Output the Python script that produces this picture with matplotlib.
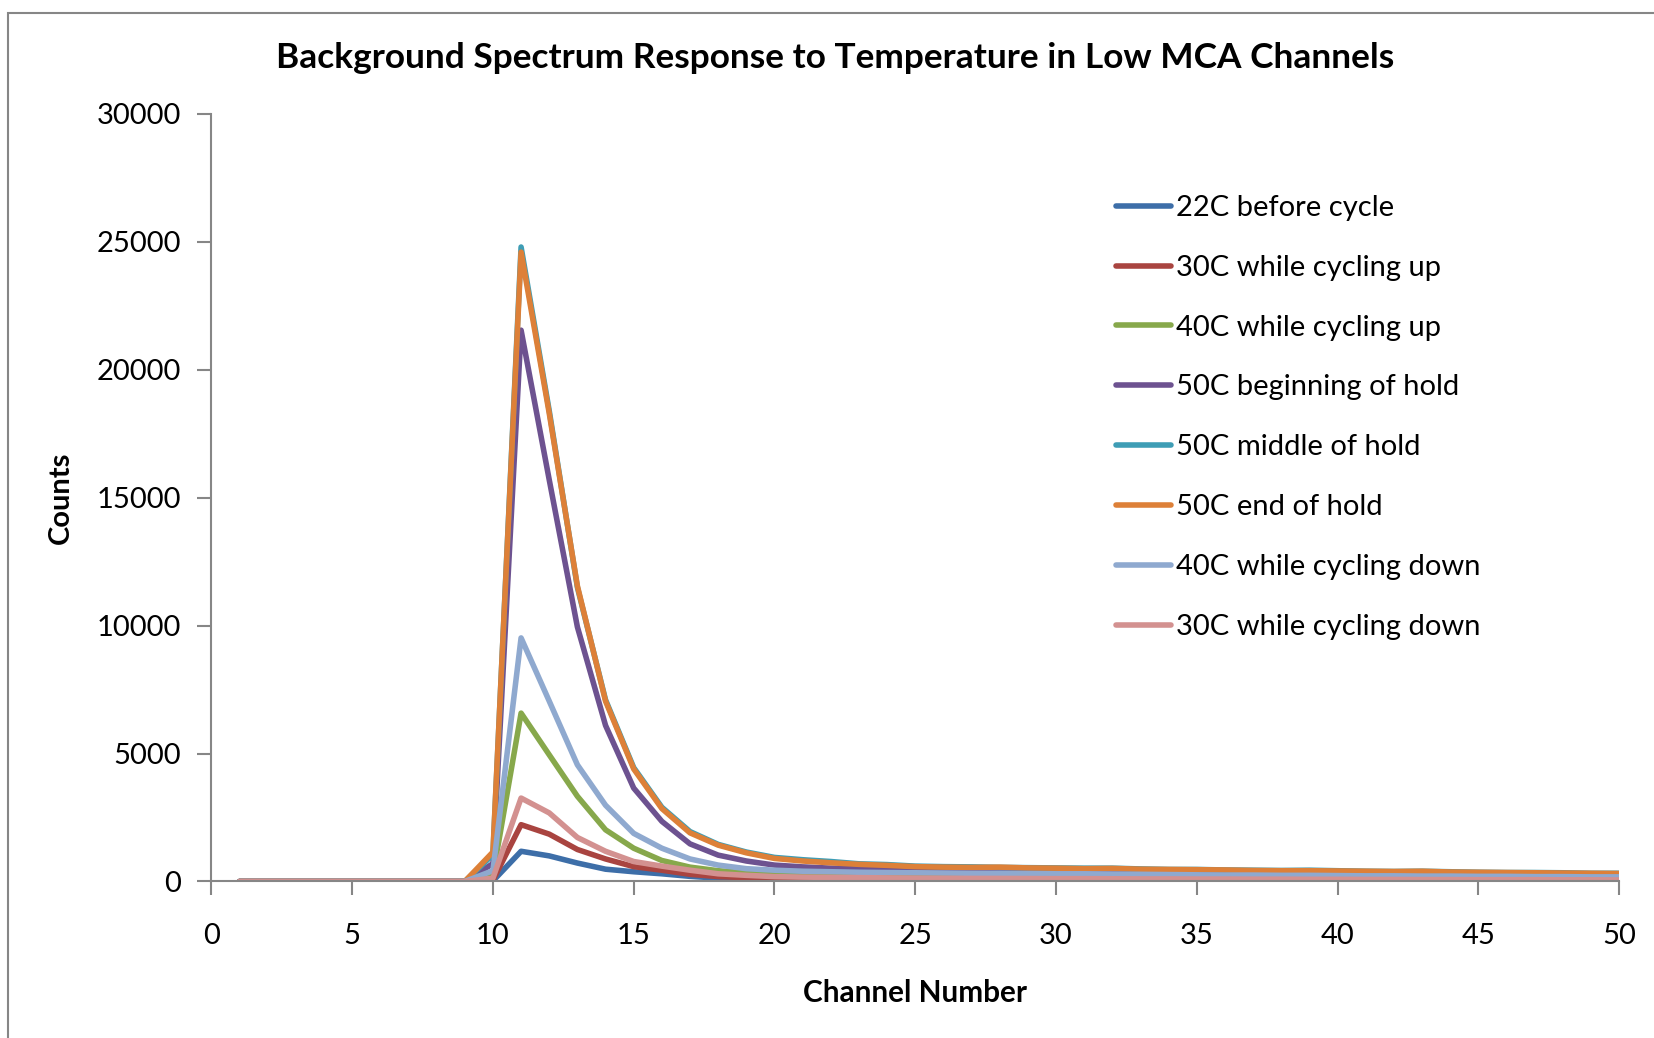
import matplotlib
matplotlib.use("Agg")
import matplotlib.pyplot as plt
from matplotlib.patches import Rectangle

plt.rcParams["font.family"] = ["Lato", "DejaVu Sans"]

channels = list(range(1, 51))
zeros = [0] * 9  # channels 1-9

blue_22 = zeros + [20, 1180, 1000, 720, 480, 380, 300, 200, 130, 100,
                   80, 70, 60, 55, 50, 50,
                   45, 44, 42, 41, 40, 39, 38, 37, 36, 35, 34, 33, 32, 31, 30,
                   30, 29, 28, 27, 26, 25, 25, 24, 23, 22]
red_30up = zeros + [50, 2220, 1850, 1250, 880, 580, 440, 280, 190, 150,
                    120, 100, 90, 85, 80, 75,
                    70, 68, 66, 64, 62, 60, 58, 56, 55, 54, 52, 50, 50, 48, 46,
                    45, 44, 42, 40, 40, 38, 36, 35, 34, 32]
green_40up = zeros + [250, 6580, 4950, 3330, 2020, 1300, 820, 560, 420, 340,
                      280, 250, 230, 220, 210, 200,
                      190, 185, 180, 175, 170, 165, 160, 155, 150, 145, 140, 140, 135, 130, 130,
                      125, 120, 120, 115, 110, 110, 105, 100, 100, 95]
purple_50beg = zeros + [700, 21550, 15700, 9950, 6100, 3650, 2350, 1470, 1030, 800,
                        640, 570, 520, 500, 490, 470,
                        460, 450, 440, 430, 420, 410, 400, 390, 380, 370, 360, 350, 340, 330, 320,
                        320, 310, 300, 290, 280, 270, 260, 250, 240, 230]
teal_50mid = zeros + [1050, 24800, 18400, 11500, 7100, 4450, 2900, 1950, 1450, 1150,
                      940, 850, 780, 690, 660, 600,
                      580, 570, 550, 540, 530, 520, 520, 490, 470, 470, 450, 440, 430, 440, 420,
                      400, 390, 400, 380, 360, 350, 350, 340, 320, 320]
orange_50end = zeros + [1150, 24600, 18300, 11550, 7050, 4400, 2850, 1900, 1420, 1120,
                        900, 800, 730, 670, 630, 580,
                        560, 550, 560, 530, 520, 500, 510, 480, 470, 460, 450, 430, 420, 420, 410,
                        400, 390, 400, 370, 360, 350, 340, 330, 320, 310]
lblue_40down = zeros + [420, 9520, 7050, 4560, 2980, 1880, 1300, 880, 640, 500,
                        440, 400, 380, 360, 350, 340,
                        330, 320, 320, 310, 300, 300, 290, 280, 270, 260, 250, 250, 240, 240, 230,
                        220, 220, 210, 210, 200, 200, 190, 190, 180, 180]
pink_30down = zeros + [130, 3260, 2680, 1720, 1180, 780, 600, 440, 300, 240,
                       190, 170, 160, 150, 140, 130,
                       125, 120, 120, 115, 110, 110, 105, 100, 100, 95, 95, 90, 90, 85, 85,
                       80, 80, 75, 75, 70, 70, 70, 65, 65, 60]

series_names = ["22C before cycle", "30C while cycling up", "40C while cycling up",
                "50C beginning of hold", "50C middle of hold", "50C end of hold",
                "40C while cycling down", "30C while cycling down"]
series_values = [blue_22, red_30up, green_40up, purple_50beg,
                 teal_50mid, orange_50end, lblue_40down, pink_30down]
colors = ["#3D6EA8", "#A94440", "#87A84B", "#6D5290",
          "#3E9DB5", "#DD8038", "#8FA9CF", "#D39190"]

fig = plt.figure(figsize=(16.54, 10.38), dpi=100)
fig.patches.append(Rectangle((8 / 1654, -0.05), 1.2, 1 - 12.5 / 1038 + 0.05,
                             transform=fig.transFigure, fill=False,
                             edgecolor="#868686", linewidth=1.5))

ax = fig.add_axes([0.1278, 0.1508, 0.9789 - 0.1278, 0.8902 - 0.1508])
for name, vals, c in zip(series_names, series_values, colors):
    ax.plot(channels, vals, color=c, linewidth=4.0, label=name,
            solid_capstyle="round", solid_joinstyle="round")

ax.set_xlim(0, 50)
ax.set_ylim(0, 30000)
ax.set_xticks(range(0, 51, 5))
ax.set_yticks(range(0, 30001, 5000))
for s in ["top", "right"]:
    ax.spines[s].set_visible(False)
for s in ["left", "bottom"]:
    ax.spines[s].set_color("#868686")
    ax.spines[s].set_linewidth(1.5)
ax.tick_params(axis="both", colors="#868686", width=1.5, length=10,
               labelcolor="black", labelsize=21)
ax.tick_params(axis="x", pad=20)
ax.tick_params(axis="y", pad=12)

fig.text(0.505, 0.944, "Background Spectrum Response to Temperature in Low MCA Channels",
         ha="center", va="center", fontsize=25.4, fontweight="bold")
fig.text(0.553, 0.043, "Channel Number", ha="center", va="center",
         fontsize=21.4, fontweight="bold")
fig.text(0.037, 0.52, "Counts", ha="center", va="center", rotation=90,
         fontsize=21, fontweight="bold")

ax.legend(loc="upper left", bbox_to_anchor=(1116 / 1654, 1 - 195 / 1038),
          bbox_transform=fig.transFigure, frameon=False, fontsize=21,
          handlelength=1.88, handletextpad=0.17, labelspacing=1.16,
          borderpad=0, borderaxespad=0)

fig.savefig("out.png", dpi=100)
